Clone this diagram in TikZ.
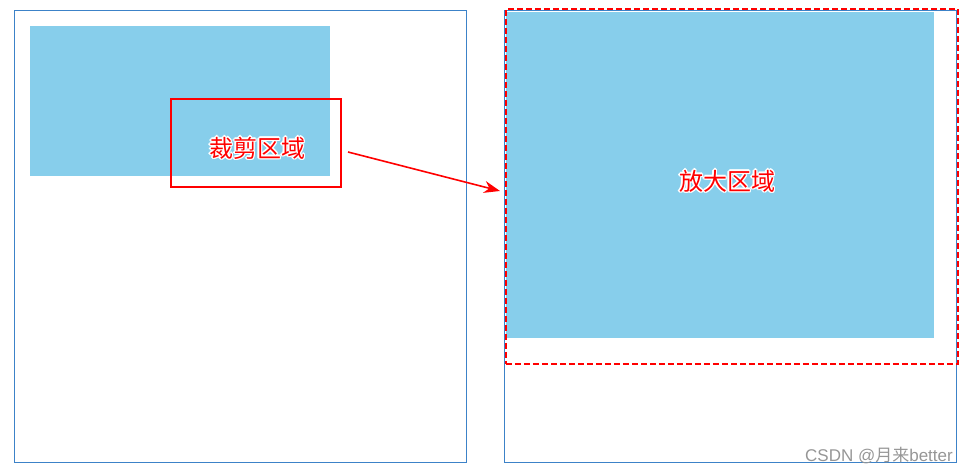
\documentclass[tikz,border=0pt]{standalone}
\usepackage{fontspec}
\newfontfamily\cjk{Noto Sans CJK SC}
\newfontfamily\wmfont{Liberation Sans}
\usetikzlibrary{arrows.meta}
\definecolor{framblue}{RGB}{60,130,200}
\definecolor{sky}{HTML}{87CEEB}
\definecolor{wmgray}{RGB}{150,150,150}
\tikzset{
  frame/.style={draw=framblue, line width=1pt, inner sep=0pt, anchor=north west},
  skybox/.style={fill=sky, draw=none, inner sep=0pt, anchor=north west},
  cropbox/.style={draw=red, line width=2pt, inner sep=0pt, anchor=north west},
  zoombox/.style={draw=red, line width=1.7pt, dash pattern=on 6pt off 3pt, inner sep=0pt, anchor=north west},
  halo/.style={text=white, font=\cjk\fontsize{24}{24}\selectfont},
  label/.style={text=red, font=\cjk\fontsize{24}{24}\selectfont},
  link/.style={draw=red, line width=1.6pt, -{Stealth[length=16pt, width=12pt]}},
}
\begin{document}
\begin{tikzpicture}[x=1pt,y=-1pt]
\useasboundingbox (0,0) rectangle (969,474);
% left: original image
\node[frame, minimum width=452pt, minimum height=452pt] (left) at (14,10) {};
\node[skybox, minimum width=300pt, minimum height=150pt] (img) at (30,26) {};
\node[cropbox, minimum width=170pt, minimum height=88pt] (crop) at (170,98) {};
% right: zoomed
\node[frame, minimum width=452pt, minimum height=452pt] (right) at (504,10) {};
\node[skybox, minimum width=428pt, minimum height=326pt] (zimg) at (506,12) {};
\node[zoombox, minimum width=452pt, minimum height=355pt] (zoom) at (505,8) {};
% labels with white halo
\foreach \dx/\dy in {-1.5/0,1.5/0,0/-1.5,0/1.5,-1/-1,1/1,-1/1,1/-1}{
  \node[halo] at ([shift={(\dx pt,\dy pt)}]257,148) {裁剪区域};
  \node[halo] at ([shift={(\dx pt,\dy pt)}]727,181) {放大区域};
}
\node[label] (croplabel) at (257,148) {裁剪区域};
\node[label] (zoomlabel) at (727,181) {放大区域};
% arrow
\coordinate (from) at (348,152);
\coordinate (to) at (500,191);
\draw[link] (from) -- (to);
% watermark
\node[text=wmgray, font=\wmfont\fontsize{17}{17}\selectfont, anchor=base east, inner sep=0pt] (wm) at (953,461) {CSDN @{\cjk 月来}better};
\end{tikzpicture}
\end{document}
